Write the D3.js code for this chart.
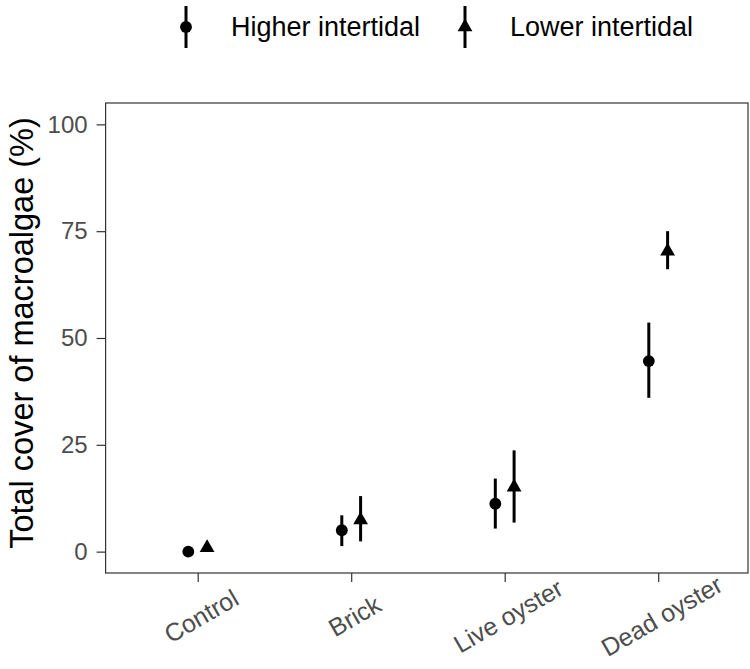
<!DOCTYPE html>
<html>
<head>
<meta charset="utf-8">
<script src="https://cdn.jsdelivr.net/npm/d3@7"></script>
<style>
  body { margin: 0; background: #fff; }
  text { font-family: "Liberation Sans", Arial, Helvetica, sans-serif; }
</style>
</head>
<body>
<div id="chart"></div>
<script>
// data
const treatments = ["Control", "Brick", "Live oyster", "Dead oyster"];
const zones = ["Higher intertidal", "Lower intertidal"];
const higherMean = [0, 5.0, 11.2, 44.6];
const higherLow = [0, 1.3, 5.4, 36.0];
const higherHigh = [0, 8.5, 17.1, 53.6];
const lowerMean = [0.9, 7.4, 15.1, 70.3];
const lowerLow = [0.9, 2.4, 6.8, 66.1];
const lowerHigh = [0.9, 13.0, 23.7, 75.0];
const yTicks = [0, 25, 50, 75, 100];

const width = 750, height = 669;
const panel = {left: 105.6, right: 748, top: 103, bottom: 573};

let svg = d3.select("#chart").append("svg")
    .attr("width", width)
    .attr("height", height);

// scales
let xScale = d3.scaleLinear().domain([0.4, 4.585]).range([panel.left, panel.right]);
let yScale = d3.scaleLinear().domain([-5, 105]).range([panel.bottom, panel.top]);
let dodge = 9.4;

// panel border
svg.append("rect")
    .attr("x", panel.left)
    .attr("y", panel.top)
    .attr("width", panel.right - panel.left)
    .attr("height", panel.bottom - panel.top)
    .attr("fill", "none")
    .attr("stroke", "#333333")
    .attr("stroke-width", 1.2);

// y axis
let yAxis = d3.axisLeft(yScale).tickValues(yTicks).tickSize(9).tickPadding(9);
let yAx = svg.append("g")
    .attr("transform", "translate(" + panel.left + ",0)")
    .call(yAxis);
yAx.select(".domain").remove();
yAx.selectAll(".tick line").attr("stroke", "#333333").attr("stroke-width", 1.2);
yAx.selectAll(".tick text")
    .attr("fill", "#4d4d4d")
    .style("font-size", "24px");

// x axis
let xAxis = d3.axisBottom(xScale)
    .tickValues([1, 2, 3, 4])
    .tickFormat((d) => treatments[d - 1])
    .tickSize(9);
let xAx = svg.append("g")
    .attr("transform", "translate(0," + panel.bottom + ")")
    .call(xAxis);
xAx.select(".domain").remove();
xAx.selectAll(".tick line").attr("stroke", "#333333").attr("stroke-width", 1.2);
xAx.selectAll(".tick text")
    .attr("fill", "#4d4d4d")
    .style("font-size", "25px")
    .attr("text-anchor", "middle")
    .attr("y", 0)
    .attr("dy", "0.35em")
    .attr("transform", "translate(3,43) rotate(-30)");

// y axis title
svg.append("text")
    .text("Total cover of macroalgae (%)")
    .attr("text-anchor", "middle")
    .style("font-size", "32.5px")
    .attr("fill", "#000")
    .attr("transform", "translate(33,333) rotate(-90)");

// series
let series = [
    {name: zones[0], mean: higherMean, lo: higherLow, hi: higherHigh, shift: -dodge, symbol: d3.symbolCircle, size: 110},
    {name: zones[1], mean: lowerMean, lo: lowerLow, hi: lowerHigh, shift: dodge, symbol: d3.symbolTriangle, size: 95}
];

series.forEach((s) => {
    let pts = treatments.map((t, i) => ({i: i + 1, mean: s.mean[i], lo: s.lo[i], hi: s.hi[i]}));
    let g = svg.append("g");
    g.selectAll("line")
        .data(pts.filter((d) => d.hi > d.lo))
        .enter().append("line")
        .attr("x1", (d) => xScale(d.i) + s.shift)
        .attr("x2", (d) => xScale(d.i) + s.shift)
        .attr("y1", (d) => yScale(d.lo))
        .attr("y2", (d) => yScale(d.hi))
        .attr("stroke", "#000")
        .attr("stroke-width", 3);
    g.selectAll("path")
        .data(pts)
        .enter().append("path")
        .attr("d", d3.symbol().type(s.symbol).size(s.size))
        .attr("transform", (d) => "translate(" + (xScale(d.i) + s.shift) + "," + yScale(d.mean) + ")")
        .attr("fill", "#000");
});

// legend
let legendX = [186, 465];
series.forEach((s, k) => {
    let lg = svg.append("g").attr("transform", "translate(" + legendX[k] + ",27)");
    lg.append("line")
        .attr("x1", 0).attr("x2", 0)
        .attr("y1", -21).attr("y2", 21)
        .attr("stroke", "#000")
        .attr("stroke-width", 3);
    lg.append("path")
        .attr("d", d3.symbol().type(s.symbol).size(s.size))
        .attr("fill", "#000");
    lg.append("text")
        .text(s.name)
        .attr("x", 45)
        .attr("dy", "0.35em")
        .style("font-size", "27px")
        .attr("fill", "#000");
});
</script>
</body>
</html>
